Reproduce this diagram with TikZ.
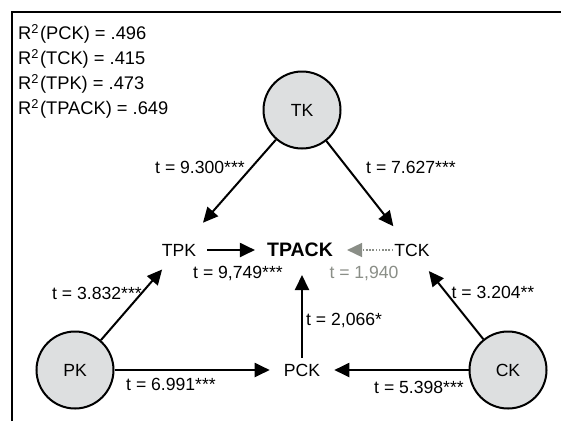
\documentclass[tikz,border=0pt]{standalone}
\usepackage{fontspec}
\setmainfont{Liberation Sans}
\usetikzlibrary{arrows.meta}
\definecolor{circfill}{RGB}{221,223,224}
\definecolor{paletext}{RGB}{138,142,135}
\begin{document}
\begin{tikzpicture}[x=1pt,y=-1pt,
  every node/.style={font=\fontsize{17.6}{20}\selectfont, inner sep=0pt},
  construct/.style={circle, draw, line width=2pt, fill=circfill, minimum size=77pt},
  txt/.style={},
  big/.style={font=\fontsize{19.5}{22}\selectfont\bfseries},
  stat/.style={anchor=west, font=\fontsize{18.3}{20}\selectfont},
  lbl/.style={},
  arr/.style={line width=2pt, -{Triangle[length=15pt,width=14pt]}},
  weakarr/.style={line width=1.6pt, paletext, dash pattern=on 1.6pt off 1.6pt, -{Triangle[length=15pt,width=14pt,fill=paletext]}}
]
\useasboundingbox (0,0) rectangle (561,421);
% frame
\draw[line width=2pt] (12,421) -- (12,11.5) -- (562,11.5);
% R^2 statistics
\node[stat] (r1) at (18,34) {R\textsuperscript{2}\kern1pt(PCK) = .496};
\node[stat] (r2) at (18,59) {R\textsuperscript{2}\kern1pt(TCK) = .415};
\node[stat] (r3) at (18,84) {R\textsuperscript{2}\kern1pt(TPK) = .473};
\node[stat] (r4) at (18,109) {R\textsuperscript{2}\kern1pt(TPACK) = .649};
% constructs
\node[construct] (tk) at (302,110) {TK};
\node[construct] (pk) at (75,370) {PK};
\node[construct] (ck) at (508,370) {CK};
\node[txt] (tpk) at (179,250) {TPK};
\node[big] (tpack) at (300,250) {TPACK};
\node[txt] (tck) at (412,250) {TCK};
\node[txt] (pck) at (302,370) {PCK};
% paths
\draw[arr, shorten >=28pt] (tk) -- (tpk);
\draw[arr, shorten >=22pt] (tk) -- (tck);
\draw[arr, shorten >=17.5pt] (pk) -- (tpk);
\draw[arr, shorten >=18.7pt] (ck) -- (tck);
\draw[arr, shorten <=11pt, shorten >=12pt] (tpk) -- (tpack);
\draw[weakarr, shorten <=1pt, shorten >=14pt] (tck) -- (tpack);
\draw[arr, shorten <=6pt, shorten >=25pt] (pck) -- (pck |- tpack);
\draw[arr, shorten >=14pt] (pk) -- (pck);
\draw[arr, shorten >=14pt] (ck) -- (pck);
% labels
\node[lbl] (l1) at (200,167) {t = 9.300***};
\node[lbl] (l2) at (411,167) {t = 7.627***};
\node[lbl] (l3) at (97,293) {t = 3.832***};
\node[lbl] (l4) at (493,292) {t = 3.204**};
\node[lbl] (l5) at (238,273) {t = 9,749***};
\node[lbl, text=paletext] (l6) at (364,273) {t = 1,940};
\node[lbl, anchor=west] (l7) at (306,320) {t = 2,066*};
\node[lbl] (l8) at (171,384) {t = 6.991***};
\node[lbl] (l9) at (419,387) {t = 5.398***};
\end{tikzpicture}
\end{document}
